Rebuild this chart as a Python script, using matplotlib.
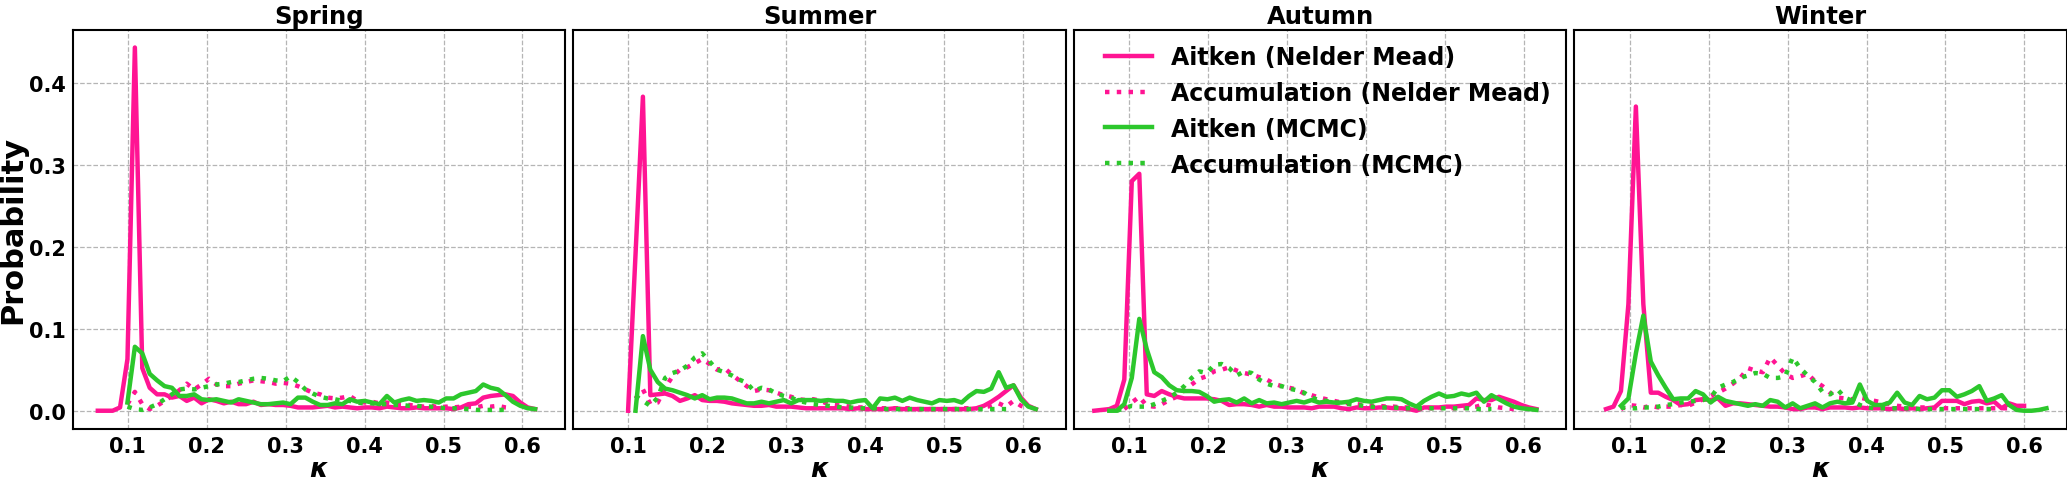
import numpy as np
import matplotlib
matplotlib.use("Agg")
import matplotlib.pyplot as plt

N = np.nan

seasons = ["Spring", "Summer", "Autumn", "Winter"]
labels = ["Aitken (Nelder Mead)", "Accumulation (Nelder Mead)",
          "Aitken (MCMC)", "Accumulation (MCMC)"]

# kappa bin centres per season
kappa_spring = np.linspace(0.062, 0.616, 60)
kappa_summer = np.linspace(0.062, 0.616, 60)
kappa_autumn = np.linspace(0.056, 0.616, 60)
kappa_winter = np.linspace(0.070, 0.628, 60)

# ---------------- Spring ----------------
spring_aitken_nm = [0.0, 0.0, 0.0, 0.004, 0.063, 0.443, 0.052, 0.028, 0.020, 0.020,
                    0.016, 0.018, 0.012, 0.016, 0.009, 0.014, 0.012, 0.009, 0.011, 0.008,
                    0.008, 0.011, 0.007, 0.008, 0.007, 0.007, 0.006, 0.004, 0.004, 0.004,
                    0.005, 0.006, 0.004, 0.005, 0.004, 0.003, 0.004, 0.004, 0.003, 0.005,
                    0.004, 0.003, 0.003, 0.004, 0.003, 0.003, 0.003, 0.003, 0.002, 0.004,
                    0.008, 0.009, 0.016, 0.018, 0.019, 0.020, 0.018, 0.010, 0.004, 0.002]
spring_accum_nm = [N, N, N, N, 0.008, 0.023, 0.008, 0.002, 0.006, 0.012,
                   0.018, 0.025, 0.033, 0.026, 0.032, 0.039, 0.032, 0.030, 0.030, 0.033,
                   0.035, 0.037, 0.036, 0.035, 0.033, 0.034, 0.033, 0.030, 0.026, 0.022,
                   0.020, 0.016, 0.015, 0.016, 0.018, 0.012, 0.010, 0.011, 0.009, 0.010,
                   0.008, 0.008, 0.007, 0.006, 0.005, 0.006, 0.004, 0.005, 0.004, 0.005,
                   0.005, 0.004, 0.006, 0.005, 0.006, 0.004, 0.003, N, N, N]
spring_aitken_mc = [N, N, N, N, 0.010, 0.078, 0.070, 0.045, 0.037, 0.030,
                    0.028, 0.018, 0.018, 0.020, 0.014, 0.013, 0.014, 0.012, 0.010, 0.014,
                    0.012, 0.010, 0.008, 0.008, 0.009, 0.010, 0.008, 0.016, 0.016, 0.011,
                    0.007, 0.007, 0.009, 0.008, 0.014, 0.011, 0.012, 0.010, 0.008, 0.018,
                    0.010, 0.013, 0.015, 0.012, 0.013, 0.012, 0.010, 0.015, 0.015, 0.020,
                    0.022, 0.024, 0.032, 0.028, 0.026, 0.019, 0.011, 0.006, 0.003, 0.002]
spring_accum_mc = [N, N, N, N, 0.005, 0.002, 0.001, 0.004, 0.008, 0.014,
                   0.020, 0.026, 0.027, 0.026, 0.028, 0.030, 0.032, 0.033, 0.035, 0.035,
                   0.037, 0.039, 0.040, 0.039, 0.037, 0.036, 0.042, 0.035, 0.026, 0.021,
                   0.017, 0.015, 0.014, 0.012, 0.012, 0.010, 0.009, 0.009, 0.008, 0.008,
                   0.007, 0.007, 0.006, 0.006, 0.005, 0.005, 0.004, 0.003, 0.003, 0.003,
                   0.002, 0.001, 0.001, 0.001, 0.001, 0.001, N, N, N, N]

# ---------------- Summer ----------------
summer_aitken_nm = [N, N, N, N, 0.0, 0.19, 0.383, 0.019, 0.020, 0.021,
                    0.018, 0.012, 0.015, 0.019, 0.013, 0.012, 0.012, 0.011, 0.009, 0.008,
                    0.007, 0.006, 0.006, 0.007, 0.005, 0.005, 0.005, 0.004, 0.003, 0.003,
                    0.003, 0.003, 0.003, 0.003, 0.002, 0.003, 0.002, 0.002, 0.002, 0.002,
                    0.003, 0.002, 0.002, 0.002, 0.002, 0.002, 0.002, 0.002, 0.002, 0.002,
                    0.002, 0.003, 0.006, 0.011, 0.017, 0.024, 0.031, 0.016, 0.006, 0.002]
summer_accum_nm = [N, N, N, N, N, 0.015, 0.026, 0.008, 0.010, 0.028,
                   0.042, 0.050, 0.053, 0.058, 0.063, 0.057, 0.050, 0.052, 0.044, 0.037,
                   0.030, 0.024, 0.026, 0.025, 0.022, 0.019, 0.017, 0.014, 0.013, 0.014,
                   0.012, 0.008, 0.007, 0.006, 0.005, 0.004, 0.004, 0.003, 0.003, 0.003,
                   0.003, 0.003, 0.003, 0.002, 0.002, 0.002, 0.002, 0.002, 0.002, 0.003,
                   0.003, 0.003, 0.004, 0.006, 0.009, 0.005, 0.012, 0.006, 0.003, N]
summer_aitken_mc = [N, N, N, N, N, 0.0, 0.091, 0.050, 0.035, 0.027,
                    0.025, 0.022, 0.019, 0.015, 0.019, 0.014, 0.016, 0.016, 0.015, 0.012,
                    0.009, 0.009, 0.011, 0.009, 0.011, 0.013, 0.009, 0.013, 0.013, 0.013,
                    0.012, 0.013, 0.012, 0.012, 0.010, 0.012, 0.013, 0.003, 0.015, 0.014,
                    0.016, 0.012, 0.016, 0.013, 0.011, 0.009, 0.013, 0.012, 0.013, 0.010,
                    0.018, 0.024, 0.023, 0.027, 0.047, 0.028, 0.031, 0.014, 0.005, 0.002]
summer_accum_mc = [N, N, N, N, N, 0.018, 0.012, 0.006, 0.016, 0.040,
                   0.046, 0.049, 0.055, 0.065, 0.070, 0.060, 0.050, 0.047, 0.043, 0.038,
                   0.034, 0.024, 0.028, 0.026, 0.021, 0.018, 0.016, 0.012, 0.010, 0.008,
                   0.007, 0.006, 0.005, 0.004, 0.004, 0.003, 0.003, 0.003, 0.003, 0.002,
                   0.002, 0.002, 0.002, 0.002, 0.002, 0.002, 0.002, 0.002, 0.002, 0.002,
                   0.002, 0.002, 0.002, 0.002, 0.002, 0.002, N, N, N, N]

# ---------------- Autumn ----------------
autumn_aitken_nm = [0.0, 0.001, 0.002, 0.006, 0.038, 0.280, 0.289, 0.020, 0.018, 0.024,
                    0.020, 0.017, 0.015, 0.015, 0.015, 0.015, 0.014, 0.012, 0.007, 0.008,
                    0.008, 0.007, 0.005, 0.007, 0.005, 0.005, 0.004, 0.004, 0.004, 0.003,
                    0.005, 0.005, 0.005, 0.003, 0.002, 0.004, 0.003, 0.003, 0.004, 0.004,
                    0.003, 0.003, 0.002, 0.000, 0.004, 0.004, 0.004, 0.005, 0.005, 0.006,
                    0.007, 0.015, 0.013, 0.013, 0.017, 0.014, 0.011, 0.007, 0.004, 0.002]
autumn_accum_nm = [N, N, N, N, 0.002, 0.010, 0.017, 0.006, 0.005, 0.008,
                   0.013, 0.017, 0.025, 0.032, 0.039, 0.042, 0.048, 0.050, 0.053, 0.049,
                   0.046, 0.044, 0.041, 0.038, 0.033, 0.030, 0.028, 0.026, 0.021, 0.019,
                   0.016, 0.014, 0.012, 0.010, 0.009, 0.008, 0.007, 0.006, 0.006, 0.005,
                   0.005, 0.004, 0.004, 0.004, 0.004, 0.003, 0.003, 0.004, 0.003, 0.003,
                   0.004, 0.005, 0.008, 0.006, 0.004, 0.003, 0.002, N, N, N]
autumn_aitken_mc = [N, N, 0.0, 0.0, 0.008, 0.040, 0.112, 0.075, 0.047, 0.041,
                    0.031, 0.025, 0.024, 0.024, 0.023, 0.018, 0.011, 0.013, 0.014, 0.010,
                    0.015, 0.009, 0.013, 0.009, 0.010, 0.008, 0.010, 0.012, 0.010, 0.013,
                    0.010, 0.011, 0.010, 0.010, 0.011, 0.014, 0.012, 0.011, 0.013, 0.015,
                    0.015, 0.014, 0.009, 0.005, 0.012, 0.017, 0.021, 0.017, 0.018, 0.021,
                    0.019, 0.022, 0.011, 0.019, 0.014, 0.009, 0.005, 0.003, 0.002, 0.001]
autumn_accum_mc = [N, N, N, 0.0, 0.003, 0.006, 0.005, 0.005, 0.008, 0.012,
                   0.016, 0.022, 0.030, 0.040, 0.048, 0.046, 0.056, 0.057, 0.052, 0.043,
                   0.048, 0.046, 0.038, 0.033, 0.030, 0.030, 0.027, 0.025, 0.022, 0.016,
                   0.013, 0.012, 0.010, 0.009, 0.008, 0.007, 0.006, 0.005, 0.004, 0.004,
                   0.004, 0.003, 0.003, 0.003, 0.003, 0.003, 0.003, 0.003, 0.003, 0.003,
                   0.003, 0.002, 0.002, 0.002, N, N, N, N, N, N]

# ---------------- Winter ----------------
winter_aitken_nm = [0.002, 0.005, 0.024, 0.130, 0.371, 0.130, 0.022, 0.022, 0.017, 0.013,
                    0.007, 0.008, 0.013, 0.014, 0.013, 0.015, 0.006, 0.009, 0.009, 0.008,
                    0.007, 0.006, 0.005, 0.005, 0.004, 0.002, 0.002, 0.004, 0.004, 0.002,
                    0.004, 0.004, 0.004, 0.003, 0.004, 0.003, 0.003, 0.003, 0.002, 0.003,
                    0.002, 0.003, 0.002, 0.003, 0.004, 0.012, 0.012, 0.012, 0.008, 0.011,
                    0.012, 0.009, 0.011, 0.003, 0.009, 0.006, 0.006, N, N, N]
winter_accum_nm = [N, N, 0.002, 0.007, 0.006, 0.004, 0.006, 0.004, 0.005, 0.005,
                   0.007, 0.006, 0.010, 0.014, 0.018, 0.022, 0.027, 0.033, 0.040, 0.052,
                   0.049, 0.047, 0.065, 0.055, 0.045, 0.040, 0.042, 0.045, 0.036, 0.030,
                   0.022, 0.016, 0.015, 0.014, 0.016, 0.014, 0.012, 0.010, 0.008, 0.006,
                   0.005, 0.004, 0.004, 0.004, 0.003, 0.003, 0.003, 0.003, 0.003, 0.003,
                   0.003, 0.003, 0.003, 0.003, 0.003, 0.003, N, N, N, N]
winter_aitken_mc = [N, N, 0.006, 0.015, 0.070, 0.116, 0.060, 0.043, 0.028, 0.014,
                    0.015, 0.015, 0.024, 0.020, 0.010, 0.017, 0.012, 0.010, 0.008, 0.006,
                    0.008, 0.006, 0.013, 0.011, 0.004, 0.009, 0.003, 0.006, 0.009, 0.004,
                    0.009, 0.011, 0.009, 0.010, 0.032, 0.012, 0.007, 0.007, 0.010, 0.022,
                    0.010, 0.007, 0.018, 0.014, 0.016, 0.025, 0.025, 0.017, 0.020, 0.024,
                    0.030, 0.012, 0.015, 0.019, 0.007, 0.001, 0.0, 0.0, 0.001, 0.003]
winter_accum_mc = [N, N, 0.004, 0.003, 0.003, 0.004, 0.004, 0.005, 0.007, 0.008,
                   0.010, 0.011, 0.012, 0.013, 0.016, 0.028, 0.032, 0.035, 0.040, 0.043,
                   0.046, 0.045, 0.040, 0.040, 0.042, 0.065, 0.052, 0.043, 0.035, 0.023,
                   0.020, 0.026, 0.016, 0.012, 0.007, 0.004, 0.003, 0.003, 0.003, 0.003,
                   0.003, 0.003, 0.002, 0.002, 0.002, 0.002, 0.002, 0.002, 0.002, 0.002,
                   0.002, 0.002, 0.002, N, N, N, N, N, N, N]

panels = [
    (kappa_spring, [spring_aitken_nm, spring_accum_nm, spring_aitken_mc, spring_accum_mc]),
    (kappa_summer, [summer_aitken_nm, summer_accum_nm, summer_aitken_mc, summer_accum_mc]),
    (kappa_autumn, [autumn_aitken_nm, autumn_accum_nm, autumn_aitken_mc, autumn_accum_mc]),
    (kappa_winter, [winter_aitken_nm, winter_accum_nm, winter_aitken_mc, winter_accum_mc]),
]

PINK = "#FF1493"
GREEN = "#2CC72C"
colors = [PINK, PINK, GREEN, GREEN]
styles = ["-", ":", "-", ":"]

plt.rcParams["font.family"] = ["DejaVu Sans"]
plt.rcParams["font.weight"] = "bold"

fig = plt.figure(figsize=(20.67, 4.81), dpi=100)

left0 = 0.0351
width = 0.2383
gap = 0.0039
bottom = 0.106
height = 0.830

first_ax = None
for p, (season, (kappa, series)) in enumerate(zip(seasons, panels)):
    left = left0 + p * (width + gap)
    if first_ax is None:
        ax = fig.add_axes([left, bottom, width, height])
        first_ax = ax
    else:
        ax = fig.add_axes([left, bottom, width, height], sharey=first_ax)
    for vals, c, ls, lab in zip(series, colors, styles, labels):
        ax.plot(kappa, vals, color=c, linestyle=ls, linewidth=3.2, label=lab)
    ax.set_xlim(0.030, 0.654)
    ax.set_ylim(-0.0223, 0.4646)
    ax.set_xticks([0.1, 0.2, 0.3, 0.4, 0.5, 0.6])
    ax.set_yticks([0.0, 0.1, 0.2, 0.3, 0.4])
    ax.grid(True, linestyle="--", linewidth=0.9, color="#b5b5b5")
    ax.set_axisbelow(True)
    ax.tick_params(axis="both", length=0, pad=5, labelsize=15)
    for t in ax.get_xticklabels() + ax.get_yticklabels():
        t.set_fontweight("bold")
    for sp in ax.spines.values():
        sp.set_linewidth(1.5)
        sp.set_color("black")
    ax.set_title(season, fontsize=17.5, fontweight="bold", pad=5)
    ax.set_xlabel(r"$\boldsymbol{\kappa}$", fontsize=19, labelpad=0)
    if p == 0:
        ax.set_ylabel("Probability", fontsize=22, fontweight="bold", labelpad=1)
    else:
        ax.tick_params(axis="y", labelleft=False)
    if p == 2:
        ax.legend(loc="upper right", frameon=False, borderaxespad=0.25,
                  prop={"weight": "bold", "size": 17})

fig.savefig("out.png", dpi=100)
